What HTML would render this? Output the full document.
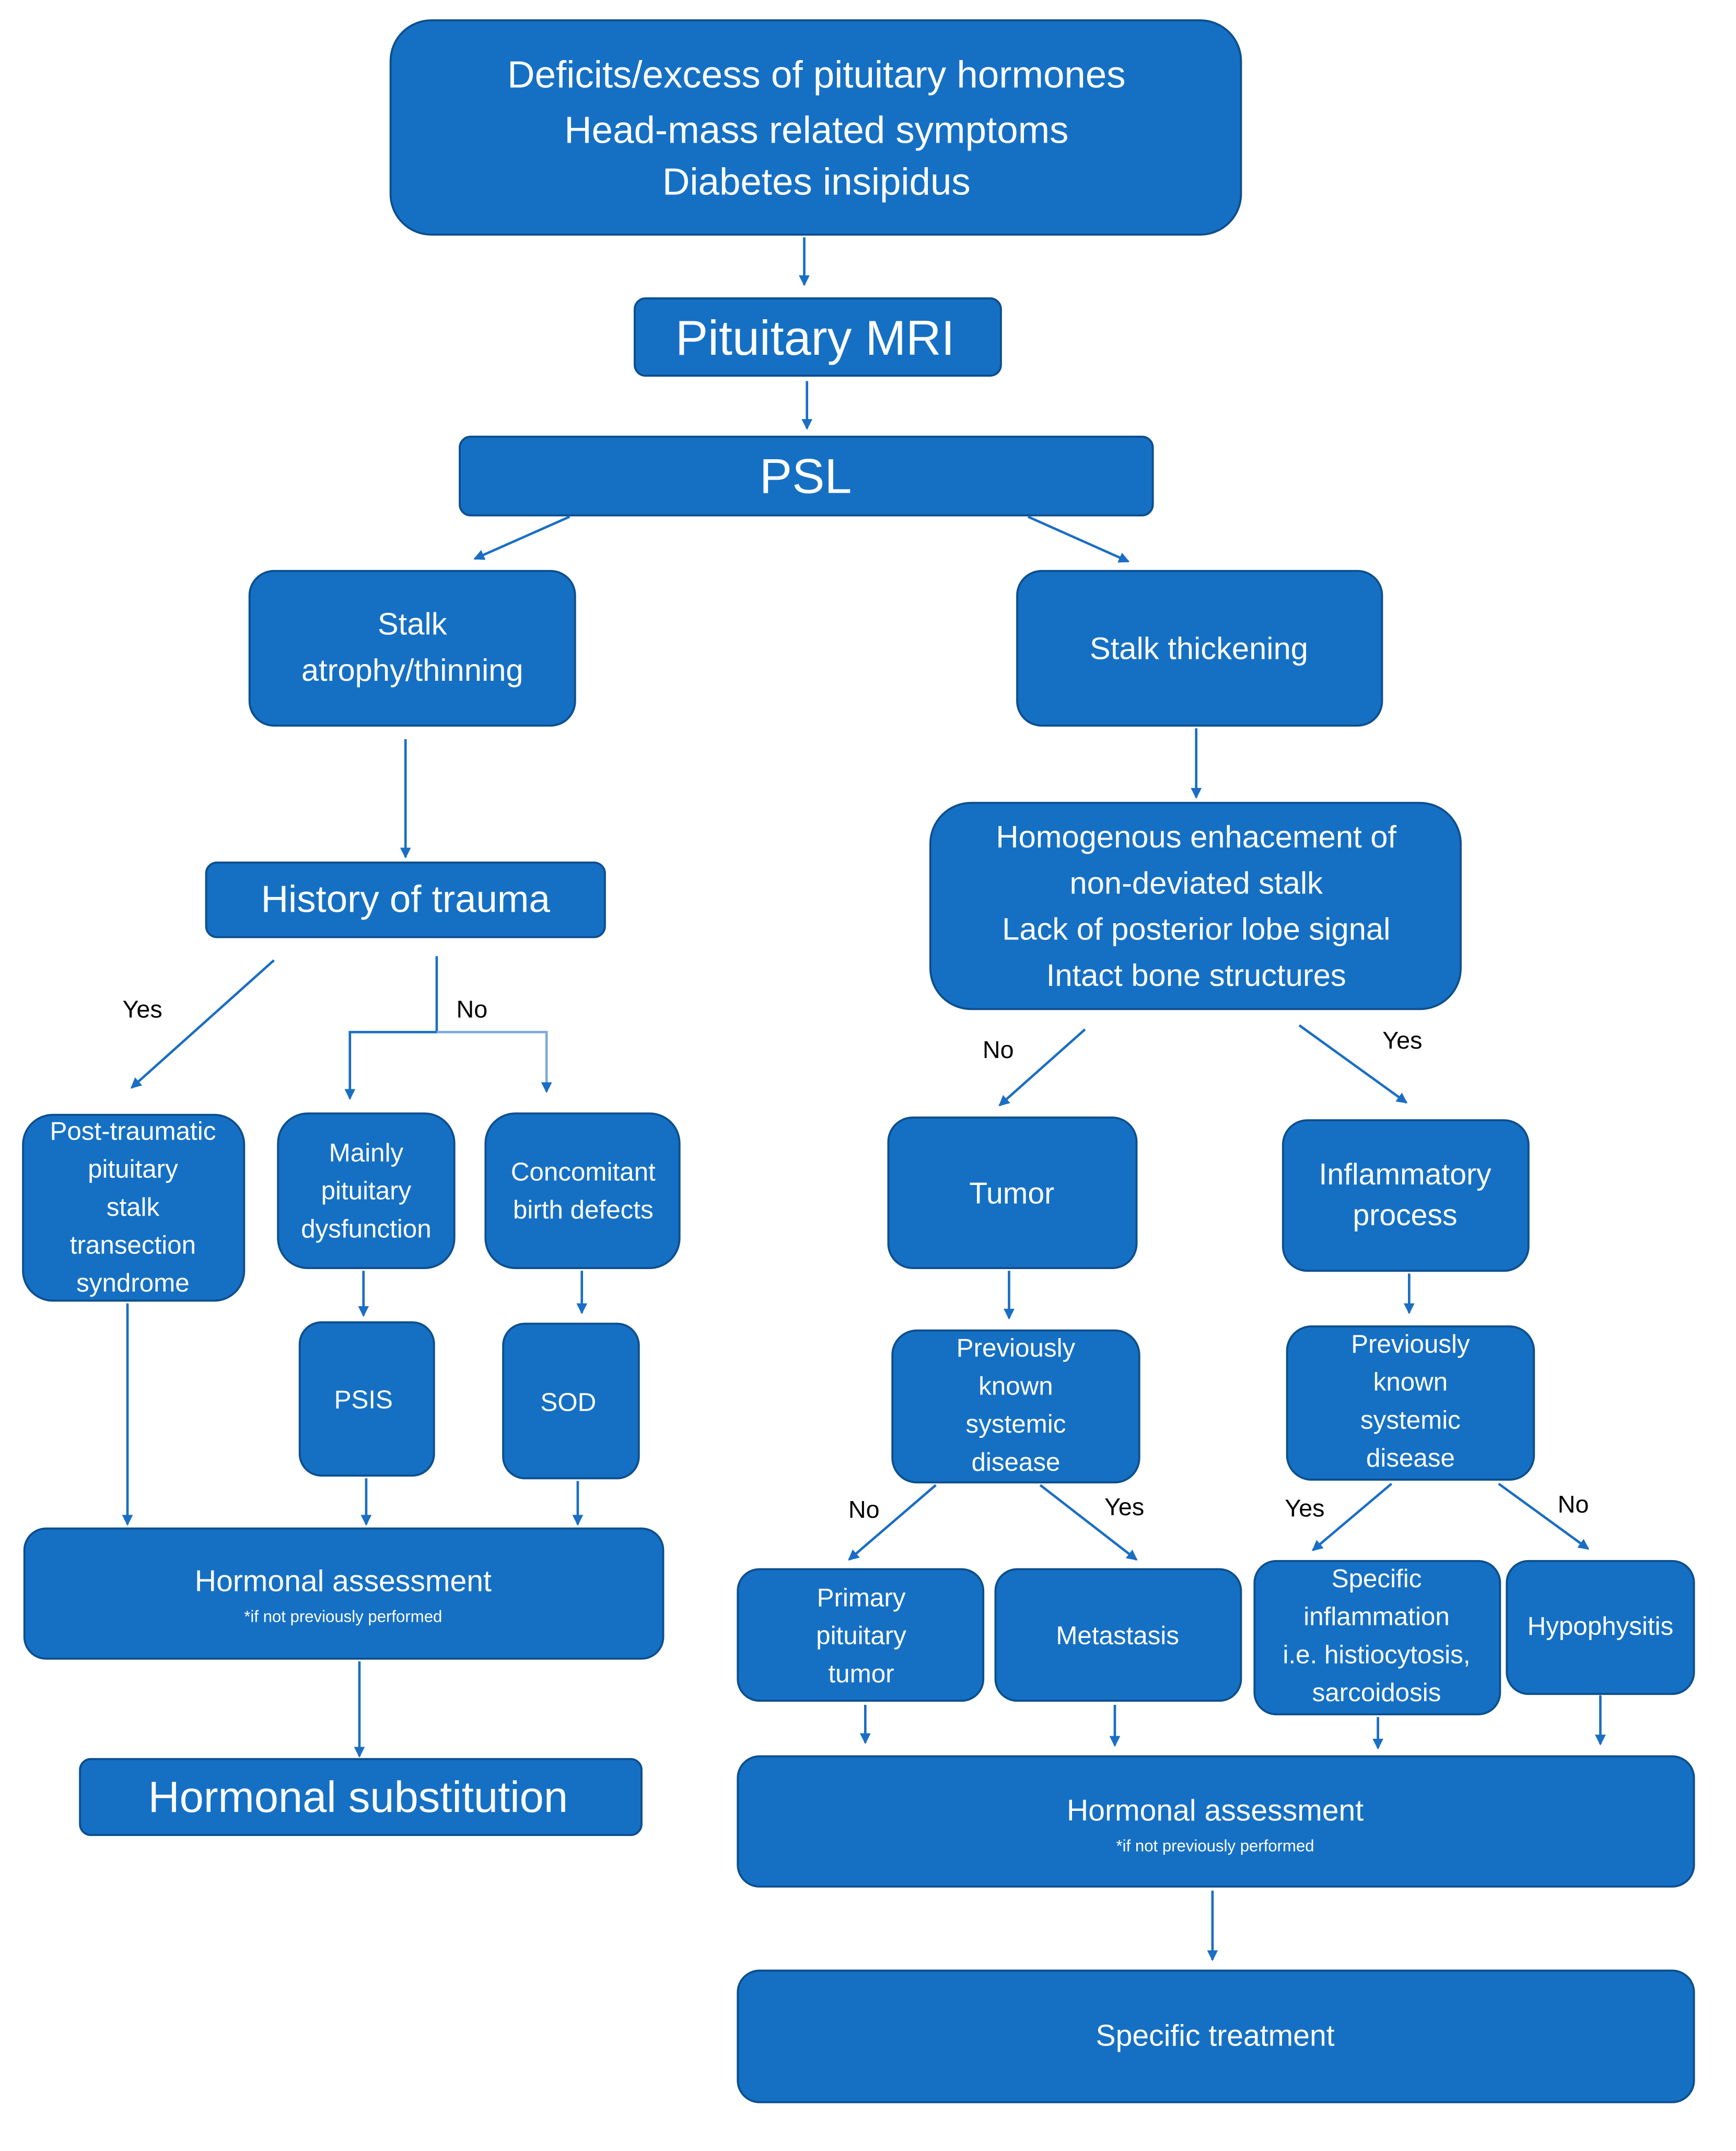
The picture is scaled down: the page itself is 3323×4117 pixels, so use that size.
<!DOCTYPE html>
<html><head><meta charset="utf-8"><style>html,body{margin:0;padding:0;background:#fff}svg{display:block}</style></head>
<body>
<svg width="3323" height="4117" viewBox="0 0 1280 1586" preserveAspectRatio="none" xmlns="http://www.w3.org/2000/svg">
<defs><marker id="a" markerWidth="10" markerHeight="10" refX="7" refY="4" orient="auto" markerUnits="userSpaceOnUse"><path d="M0,0 L8,4 L0,8 z" fill="#1a6ec4"/></marker></defs>
<g fill="#1570c4" stroke="#0d4f8e" stroke-width="1.5">
<rect x="288" y="15" width="627" height="158" rx="30"/>
<rect x="468" y="220" width="270" height="57" rx="8"/>
<rect x="339" y="322" width="511" height="58" rx="8"/>
<rect x="184" y="421" width="240" height="114" rx="18"/>
<rect x="750" y="421" width="269" height="114" rx="18"/>
<rect x="152" y="636" width="294" height="55" rx="8"/>
<rect x="686" y="592" width="391" height="152" rx="30"/>
<rect x="17" y="822" width="163" height="137" rx="22"/>
<rect x="205" y="821" width="130" height="114" rx="22"/>
<rect x="358" y="821" width="143" height="114" rx="22"/>
<rect x="221" y="975" width="99" height="113" rx="16"/>
<rect x="371" y="976" width="100" height="114" rx="16"/>
<rect x="18" y="1127" width="471" height="96" rx="16"/>
<rect x="59" y="1297" width="414" height="56" rx="8"/>
<rect x="655" y="824" width="183" height="111" rx="18"/>
<rect x="946" y="826" width="181" height="111" rx="18"/>
<rect x="658" y="981" width="182" height="112" rx="18"/>
<rect x="949" y="978" width="182" height="113" rx="18"/>
<rect x="544" y="1157" width="181" height="97" rx="16"/>
<rect x="734" y="1157" width="181" height="97" rx="16"/>
<rect x="925" y="1151" width="181" height="113" rx="16"/>
<rect x="1111" y="1151" width="138" height="98" rx="16"/>
<rect x="544" y="1295" width="705" height="96" rx="16"/>
<rect x="544" y="1453" width="705" height="97" rx="16"/>
</g>
<g stroke="#1a6ec4" stroke-width="1.8" fill="none" marker-end="url(#a)">
<line x1="593" y1="175" x2="593" y2="210"/>
<line x1="595" y1="281" x2="595" y2="316"/>
<line x1="420" y1="381" x2="350" y2="412"/>
<line x1="758" y1="381" x2="832" y2="414"/>
<line x1="299" y1="545" x2="299" y2="632"/>
<line x1="882" y1="537" x2="882" y2="588"/>
<line x1="202" y1="708" x2="97" y2="802"/>
<polyline points="322,705 322,761 258,761 258,810"/>
<polyline points="322,761 403,761 403,805" stroke="#7fa9dc"/>
<line x1="800" y1="759" x2="737" y2="815"/>
<line x1="958" y1="756" x2="1037" y2="813"/>
<line x1="94" y1="961" x2="94" y2="1124"/>
<line x1="268" y1="937" x2="268" y2="970"/>
<line x1="429" y1="937" x2="429" y2="968"/>
<line x1="270" y1="1090" x2="270" y2="1124"/>
<line x1="426" y1="1092" x2="426" y2="1124"/>
<line x1="265" y1="1225" x2="265" y2="1295"/>
<line x1="744" y1="937" x2="744" y2="972"/>
<line x1="1039" y1="939" x2="1039" y2="968"/>
<line x1="690" y1="1095" x2="626" y2="1150"/>
<line x1="767" y1="1095" x2="838" y2="1150"/>
<line x1="1026" y1="1094" x2="968" y2="1143"/>
<line x1="1105" y1="1094" x2="1171" y2="1142"/>
<line x1="638" y1="1257" x2="638" y2="1285"/>
<line x1="822" y1="1257" x2="822" y2="1287"/>
<line x1="1016" y1="1266" x2="1016" y2="1289"/>
<line x1="1180" y1="1250" x2="1180" y2="1286"/>
<line x1="894" y1="1394" x2="894" y2="1445"/>
</g>
<g font-family="'Liberation Sans', sans-serif" fill="#000" font-size="18" text-anchor="middle" dominant-baseline="central">
<text x="105" y="744">Yes</text><text x="348" y="744">No</text>
<text x="736" y="774">No</text><text x="1034" y="767">Yes</text>
<text x="637" y="1113">No</text><text x="829" y="1111">Yes</text>
<text x="962" y="1112">Yes</text><text x="1160" y="1109">No</text>
</g>
<g font-family="'Liberation Sans', sans-serif" fill="#fff" text-anchor="middle" dominant-baseline="central">
<g font-size="28"><text x="602" y="55">Deficits/excess of pituitary hormones</text><text x="602" y="96">Head-mass related symptoms</text><text x="602" y="134">Diabetes insipidus</text></g>
<text x="601" y="249" font-size="36">Pituitary MRI</text>
<text x="594" y="351" font-size="36">PSL</text>
<g font-size="23"><text x="304" y="460">Stalk</text><text x="304" y="494">atrophy/thinning</text><text x="884" y="478">Stalk thickening</text></g>
<text x="299" y="663" font-size="28">History of trauma</text>
<g font-size="23"><text x="882" y="617">Homogenous enhacement of</text><text x="882" y="651">non-deviated stalk</text><text x="882" y="685">Lack of posterior lobe signal</text><text x="882" y="719">Intact bone structures</text></g>
<g font-size="19">
<text x="98" y="834">Post-traumatic</text><text x="98" y="862">pituitary</text><text x="98" y="890">stalk</text><text x="98" y="918">transection</text><text x="98" y="946">syndrome</text>
<text x="270" y="850">Mainly</text><text x="270" y="878">pituitary</text><text x="270" y="906">dysfunction</text>
<text x="430" y="864">Concomitant</text><text x="430" y="892">birth defects</text>
<text x="268" y="1032">PSIS</text><text x="419" y="1034">SOD</text>
<text x="749" y="994">Previously</text><text x="749" y="1022">known</text><text x="749" y="1050">systemic</text><text x="749" y="1078">disease</text>
<text x="1040" y="991">Previously</text><text x="1040" y="1019">known</text><text x="1040" y="1047">systemic</text><text x="1040" y="1075">disease</text>
<text x="635" y="1178">Primary</text><text x="635" y="1206">pituitary</text><text x="635" y="1234">tumor</text>
<text x="824" y="1206">Metastasis</text>
<text x="1015" y="1164">Specific</text><text x="1015" y="1192">inflammation</text><text x="1015" y="1220">i.e. histiocytosis,</text><text x="1015" y="1248">sarcoidosis</text>
<text x="1180" y="1199">Hypophysitis</text>
</g>
<g font-size="22"><text x="746" y="880">Tumor</text><text x="1036" y="866">Inflammatory</text><text x="1036" y="896">process</text>
<text x="253" y="1166">Hormonal assessment</text><text x="896" y="1335">Hormonal assessment</text><text x="896" y="1501">Specific treatment</text></g>
<g font-size="12"><text x="253" y="1192">*if not previously performed</text><text x="896" y="1361">*if not previously performed</text></g>
<text x="264" y="1325" font-size="32">Hormonal substitution</text>
</g>
</svg>
</body></html>
